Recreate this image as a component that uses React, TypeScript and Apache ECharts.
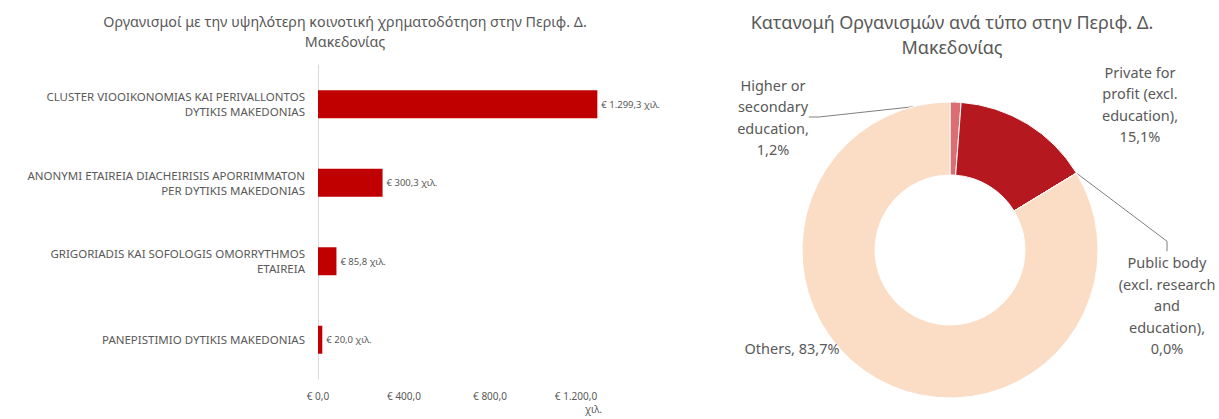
import React, { useEffect, useRef } from "react";
import * as echarts from "echarts";

const barTitle = "Οργανισμοί με την υψηλότερη κοινοτική χρηματοδότηση στην Περιφ. Δ.\nΜακεδονίας";
const barCategories = [
  "CLUSTER VIOOIKONOMIAS KAI PERIVALLONTOS\nDYTIKIS MAKEDONIAS",
  "ANONYMI ETAIREIA DIACHEIRISIS APORRIMMATON\nPER DYTIKIS MAKEDONIAS",
  "GRIGORIADIS KAI SOFOLOGIS OMORRYTHMOS\nETAIREIA",
  "PANEPISTIMIO DYTIKIS MAKEDONIAS",
];
const barValues = [1299.3, 300.3, 85.8, 20.0];
const axisUnit = "χιλ.";

const pieTitle = "Κατανομή Οργανισμών ανά τύπο στην Περιφ. Δ.\nΜακεδονίας";
const pieNames = [
  "Higher or secondary education",
  "Private for profit (excl. education)",
  "Public body (excl. research and education)",
  "Others",
];
const pieLabelTexts = [
  "Higher or\nsecondary\neducation,",
  "Private for\nprofit (excl.\neducation),",
  "Public body\n(excl. research\nand\neducation),",
  "Others,",
];
const pieValues = [1.2, 15.1, 0.0, 83.7];
const pieColors = ["#DB6E72", "#B5191F", "#FBDCC5", "#FBDCC5"];

const FONT = "'Noto Sans', 'Open Sans', sans-serif";
const GRAY = "#595959";

function fmtNum(v: number, dec: number) {
  const s = v.toFixed(dec);
  const [i, d] = s.split(".");
  const ii = i.replace(/\B(?=(\d{3})+(?!\d))/g, ".");
  return d ? ii + "," + d : ii;
}

export default function App() {
  const ref = useRef<HTMLDivElement>(null);
  useEffect(() => {
    if (!ref.current) return;
    const chart = echarts.init(ref.current, null, { renderer: "svg" });
    const pieLabelPos: [number, number][] = [
      [773, 117],
      [1140, 104],
      [1167, 305],
      [792, 348],
    ];
    chart.setOption({
      animation: false,
      textStyle: { fontFamily: FONT },
      title: [
        {
          text: barTitle,
          left: 340,
          top: 6,
          textAlign: "center",
          textStyle: { fontSize: 14.3, fontWeight: "normal", color: GRAY, lineHeight: 20, fontFamily: FONT },
        },
        {
          text: pieTitle,
          left: 947,
          top: 4,
          textAlign: "center",
          textStyle: { fontSize: 18, fontWeight: "normal", color: GRAY, lineHeight: 25, fontFamily: FONT },
        },
      ],
      grid: { left: 318, top: 65, width: 301, height: 314, containLabel: false },
      xAxis: {
        type: "value",
        min: 0,
        max: 1400,
        interval: 400,
        name: axisUnit,
        nameLocation: "end",
        nameGap: 0,
        nameTextStyle: { color: GRAY, fontSize: 10, padding: [25, 0, 0, -34], verticalAlign: "top" },
        axisLine: { show: false },
        axisTick: { show: false },
        splitLine: { show: false },
        axisLabel: {
          color: GRAY,
          fontSize: 10,
          margin: 12,
          showMaxLabel: false,
          formatter: (v: number) => "€ " + fmtNum(v, 1),
        },
      },
      yAxis: {
        type: "category",
        data: barCategories,
        inverse: true,
        axisLine: { show: true, lineStyle: { color: "#D9D9D9" } },
        axisTick: { show: false },
        axisLabel: { color: GRAY, fontSize: 11.5, margin: 13, align: "right", lineHeight: 15 },
      },
      series: [
        {
          type: "bar",
          data: barValues,
          barWidth: 28,
          itemStyle: { color: "#C00000" },
          label: {
            show: true,
            position: "right",
            distance: 4,
            color: GRAY,
            fontSize: 9.5,
            formatter: (p: any) => "€ " + fmtNum(p.value, 1) + " χιλ.",
          },
        },
        {
          type: "pie",
          center: [950, 250],
          radius: [75, 148],
          startAngle: 90,
          clockwise: true,
          stillShowZeroSum: true,
          minShowLabelAngle: 0,
          avoidLabelOverlap: false,
          itemStyle: { borderColor: "#ffffff", borderWidth: 1 },
          label: {
            show: true,
            color: GRAY,
            fontSize: 14.5,
            lineHeight: 21.5,
            align: "center",
            fontFamily: FONT,
            formatter: (p: any) =>
              pieLabelTexts[p.dataIndex] + (p.dataIndex === 3 ? " " : "\n") + fmtNum(p.value, 1) + "%",
          },
          labelLine: { show: true, length: 20, length2: 10, lineStyle: { color: "#7F7F7F", width: 1 } },
          labelLayout: (params: any) => {
            const pos = pieLabelPos[params.dataIndex];
            return { x: pos[0], y: pos[1], align: "center", verticalAlign: "middle" };
          },
          data: pieNames.map((n, i) => ({
            name: n,
            value: pieValues[i],
            itemStyle: { color: pieColors[i] },
            labelLine: { show: i === 0 || i === 2 },
          })),
        },
      ],
    });
    return () => chart.dispose();
  }, []);
  return <div ref={ref} style={{ position: "absolute", left: 0, top: 0, width: 1219, height: 419 }} />;
}
